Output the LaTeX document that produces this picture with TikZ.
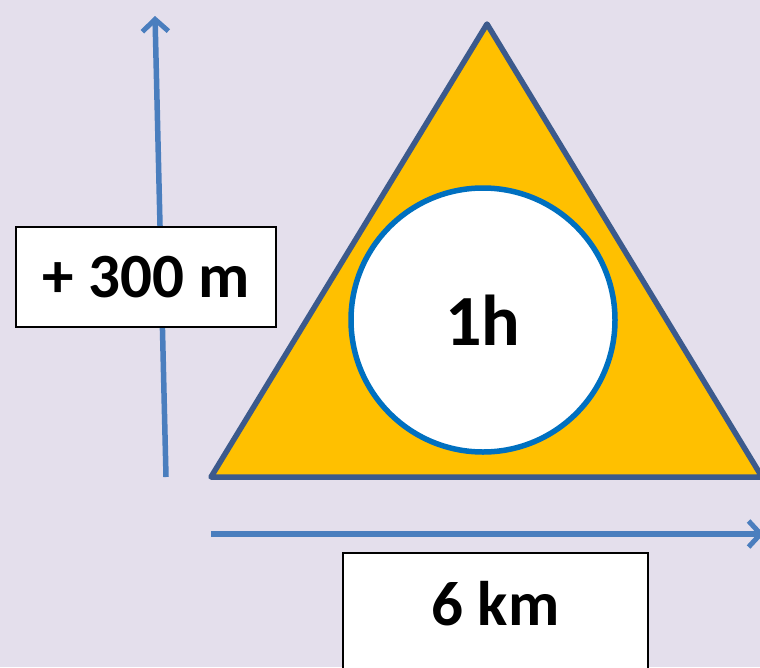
\documentclass[tikz,border=0pt]{standalone}
\usepackage{fontspec}
\setmainfont{Carlito}
\usetikzlibrary{positioning, arrows.meta}
\definecolor{bglav}{RGB}{228, 223, 236}
\definecolor{trifill}{RGB}{255, 192, 0}
\definecolor{triedge}{RGB}{60, 90, 140}
\definecolor{ringblue}{RGB}{0, 112, 192}
\definecolor{axisblue}{RGB}{74, 126, 190}

\begin{document}
\begin{tikzpicture}[x=1pt, y=-1pt,
                lbox/.style={draw=black, fill=white, line width=1.5pt,
                    inner sep=0pt, align=center,
                    font=\fontsize{63}{68}\selectfont\bfseries},
                axis/.style={draw=axisblue, line width=5.5pt,
                    -{Straight Barb[length=12pt, width=26pt, line width=5pt]}}
            ]
                \useasboundingbox (0, 0) rectangle (760, 667);
                \clip (0, 0) rectangle (760, 667);
                \fill[bglav] (0, 0) rectangle (760, 667);

                % axes
                \coordinate (vbot) at (166, 477);
                \coordinate (vtop) at (155, 16);
                \coordinate (hleft) at (211, 534);
                \coordinate (hright) at (764, 534);
                \draw[axis] (vbot) -- (vtop);
                \draw[axis] (hleft) -- (hright);

                % triangle
                \coordinate (apex) at (487, 24);
                \coordinate (bl) at (211, 477);
                \coordinate (br) at (762, 477);
                \draw[fill=trifill, draw=triedge, line width=5.5pt,
                      line join=round] (apex) -- (bl) -- (br) -- cycle;

                \node[circle, draw=ringblue, fill=white, line width=5.5pt,
                      minimum size=264pt, inner sep=0pt,
                      font=\fontsize{72}{76}\selectfont\bfseries]
                    (hour) at (483, 320) {1h\hspace{10pt}};

                % labels
                \node[lbox, minimum width=260pt, minimum height=100pt]
                    (climb) at (146, 277) {+ 300 m};
                \node[lbox, minimum width=305pt, minimum height=130pt,
                      text height=50pt, text depth=36pt]
                    (dist) at (495.5, 618) {6 km};

            \end{tikzpicture}
\end{document}
